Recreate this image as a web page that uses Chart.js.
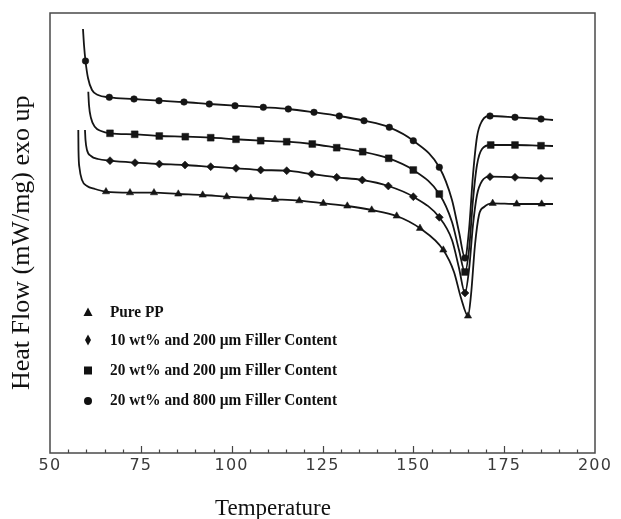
<!DOCTYPE html>
<html>
<head>
<meta charset="utf-8">
<script src="https://cdn.jsdelivr.net/npm/chart.js@4/dist/chart.umd.min.js"></script>
<style>
html,body{margin:0;padding:0;background:#fff;}
#wrap{position:relative;width:621px;height:519px;overflow:hidden;background:#fff;}
#c{position:absolute;left:0;top:0;}
.row{position:absolute;left:0;height:22px;white-space:nowrap;}
.mk{position:absolute;left:80px;top:3px;width:16px;height:16px;}
.tx{position:absolute;left:110px;top:0;line-height:22px;font-family:"Liberation Serif","Times New Roman",serif;font-weight:bold;font-size:17px;color:#111;transform:scaleX(0.9);transform-origin:0 50%;}
#xt{position:absolute;left:213px;top:496px;width:120px;text-align:center;font-family:"Liberation Serif","Times New Roman",serif;font-size:23px;line-height:23px;color:#111;}
</style>
</head>
<body>
<div id="wrap">
<canvas id="c" width="621" height="519"></canvas>
<div id="legend"></div>
<div id="xt">Temperature</div>
</div>
<script>
// ---- data (temperature in °C, heat flow in arbitrary units, marker flags) ----
const seriesNames = ["Pure PP", "10 wt% and 200 \u00b5m Filler Content", "20 wt% and 200 \u00b5m Filler Content", "20 wt% and 800 \u00b5m Filler Content"];

const tempPP = [57.79,57.84,58.12,58.81,60.18,62.39,65.41,72.02,78.62,85.31,92.03,98.63,105.24,111.93,118.61,125.22,131.83,138.54,145.42,151.83,158.25,161.19,163.12,165.05,165.87,166.97,168.07,169.45,171.84,178.45,185.33,188.44];
const heatPP = [32.3,30.3,28.5,27.3,26.7,26.4,26.13,26.03,26.03,25.9,25.8,25.63,25.5,25.37,25.23,24.97,24.7,24.3,23.7,22.47,20.3,18.1,15.5,13.7,15.8,20.8,23.8,24.6,24.97,24.9,24.9,24.9];
const markPP = [0,0,0,0,0,0,1,1,1,1,1,1,1,1,1,1,1,1,1,1,1,0,0,1,0,0,0,0,1,1,1,0];

const temp10_200 = [59.63,59.77,60.18,61.28,63.21,66.51,73.39,80.08,87.16,94.23,101.19,107.99,115.15,122.03,128.91,135.95,143.11,149.99,157.15,160.64,162.57,164.22,165.32,166.42,167.52,168.90,171.1,177.98,185.14,188.44];
const heat10_200 = [32.3,31.3,30.3,29.7,29.4,29.23,29.03,28.9,28.8,28.63,28.47,28.3,28.23,27.9,27.57,27.3,26.7,25.63,23.57,21.3,18.5,16.0,18.3,22.8,25.8,27.2,27.63,27.57,27.47,27.45];
const mark10_200 = [0,0,0,0,0,1,1,1,1,1,1,1,1,1,1,1,1,1,1,0,0,1,0,0,0,0,1,1,1,0];

const temp20_200 = [60.54,60.73,61.28,62.39,64.04,66.51,73.31,80.08,87.24,94.23,101.19,107.99,115.15,122.19,128.91,136.06,143.22,149.99,157.15,160.64,162.57,164.22,165.32,166.42,167.52,168.90,171.3,177.98,185.14,188.44];
const heat20_200 = [36.13,34.8,33.5,32.6,32.2,31.97,31.87,31.7,31.63,31.53,31.37,31.23,31.13,30.9,30.53,30.13,29.47,28.3,25.9,23.1,20.3,18.1,20.3,25.3,28.8,30.4,30.8,30.8,30.73,30.7];
const mark20_200 = [0,0,0,0,0,1,1,1,1,1,1,1,1,1,1,1,1,1,1,0,0,1,0,0,0,0,1,1,1,0];

const temp20_800 = [59.08,59.36,59.77,60.46,61.56,63.21,66.32,73.12,80.00,86.88,93.84,100.92,108.71,115.59,122.66,129.62,136.42,143.39,149.99,157.15,160.64,162.57,164.22,165.32,166.42,167.52,168.90,171.1,177.98,185.14,188.44];
const heat20_800 = [42.4,40.8,39.2,37.5,36.3,35.8,35.57,35.4,35.23,35.1,34.9,34.73,34.57,34.4,34.07,33.7,33.23,32.57,31.23,28.57,25.3,22.1,19.5,22.3,27.8,31.6,33.2,33.7,33.57,33.4,33.3];
const mark20_800 = [0,0,1,0,0,0,1,1,1,1,1,1,1,1,1,1,1,1,1,1,0,0,1,0,0,0,0,1,1,1,0];

const xMin = 50, xMax = 200, xStep = 25;

// ---- styles ----
const ink = '#151515';
const series = [
  {name: seriesNames[0], T: tempPP,     H: heatPP,     M: markPP,     style: 'triangle', r: 4.2},
  {name: seriesNames[1], T: temp10_200, H: heat10_200, M: mark10_200, style: 'rectRot',  r: 4.0},
  {name: seriesNames[2], T: temp20_200, H: heat20_200, M: mark20_200, style: 'rect',     r: 4.8},
  {name: seriesNames[3], T: temp20_800, H: heat20_800, M: mark20_800, style: 'circle',   r: 3.3}
];

const datasets = series.map(s => ({
  label: s.name,
  data: s.T.map((t, i) => ({x: t, y: s.H[i]})),
  borderColor: ink,
  borderWidth: 1.8,
  cubicInterpolationMode: 'monotone',
  fill: false,
  pointStyle: s.style,
  pointRadius: ctx => s.M[ctx.dataIndex] ? s.r : 0,
  pointBackgroundColor: ink,
  pointBorderColor: ink,
  pointBorderWidth: 0.5
}));

// ---- legend (HTML) ----
const legendCenters = [312, 340, 370, 400];
const svgFor = {
  triangle: '<svg class="mk" viewBox="0 0 16 16"><polygon points="8,3.5 12.5,12 3.5,12" fill="#111"/></svg>',
  rectRot:  '<svg class="mk" viewBox="0 0 16 16"><polygon points="8,2.5 11,8 8,13.5 5,8" fill="#111"/></svg>',
  rect:     '<svg class="mk" viewBox="0 0 16 16"><rect x="4" y="4.5" width="8" height="8" fill="#111"/></svg>',
  circle:   '<svg class="mk" viewBox="0 0 16 16"><circle cx="8" cy="9" r="4" fill="#111"/></svg>'
};
const lg = document.getElementById('legend');
series.forEach((s, i) => {
  const row = document.createElement('div');
  row.className = 'row';
  row.style.top = (legendCenters[i] - 11) + 'px';
  row.innerHTML = svgFor[s.style] + '<span class="tx"></span>';
  row.querySelector('.tx').textContent = s.name;
  lg.appendChild(row);
});

// ---- frame + inner tick marks ----
const framePlugin = {
  id: 'frame',
  afterDatasetsDraw(chart) {
    try { chart.ctx.letterSpacing = '1.2px'; } catch (e) {}
  },
  afterDraw(chart) {
    const ctx = chart.ctx;
    try { ctx.letterSpacing = '0px'; } catch (e) {}
    const a = chart.chartArea;
    const xs = chart.scales.x;
    ctx.save();
    ctx.strokeStyle = '#4a4a4a';
    ctx.lineWidth = 1.5;
    ctx.strokeRect(a.left, a.top, a.right - a.left, a.bottom - a.top);
    ctx.strokeStyle = '#444';
    ctx.lineWidth = 1.2;
    for (let v = xs.min + 5; v < xs.max; v += 5) {
      const px = Math.round(xs.getPixelForValue(v)) + 0.5;
      const len = (v % 25 === 0) ? 7 : 3.5;
      ctx.beginPath();
      ctx.moveTo(px, a.bottom);
      ctx.lineTo(px, a.bottom - len);
      ctx.stroke();
    }
    ctx.restore();
  }
};

new Chart(document.getElementById('c'), {
  type: 'line',
  data: {datasets},
  options: {
    responsive: false,
    animation: false,
    layout: {padding: {top: 13, right: 26, bottom: 0, left: 0}},
    plugins: {legend: {display: false}, tooltip: {enabled: false}},
    scales: {
      x: {
        type: 'linear', min: xMin, max: xMax,
        grid: {display: false, drawTicks: false},
        border: {display: false},
        ticks: {stepSize: xStep, z: 1, padding: 3, maxRotation: 0, color: '#3a3a3a',
                font: {family: '"DejaVu Sans", Verdana, sans-serif', size: 16}},
        afterFit: s => { s.height = 66; }
      },
      y: {
        min: 0, max: 44,
        grid: {display: false, drawTicks: false},
        border: {display: false},
        ticks: {display: false},
        title: {display: true, text: 'Heat Flow (mW/mg) exo up\u00a0\u00a0\u00a0', color: '#111',
                font: {family: '"Liberation Serif", "Times New Roman", serif', size: 26},
                padding: {top: 7, bottom: 0}},
        afterFit: s => { s.width = 50; }
      }
    }
  },
  plugins: [framePlugin]
});
</script>
</body>
</html>
